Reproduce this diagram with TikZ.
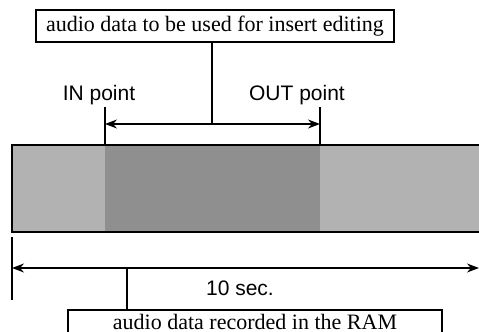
\documentclass[tikz,border=0pt]{standalone}
\usepackage{fontspec}
\usetikzlibrary{arrows.meta}
\setmainfont{Liberation Serif}
\newfontfamily\labelfont{Liberation Sans}
\begin{document}
\begin{tikzpicture}[x=0.5pt, y=-0.5pt, line width=0.6pt,
    textbox/.style={draw, line width=0.8pt, inner sep=0pt, font=\fontsize{11}{13}\selectfont},
    pointlabel/.style={font=\labelfont\fontsize{10.5}{12}\selectfont}]
    \useasboundingbox (0,0) rectangle (479,332);
    \clip (0,0) rectangle (479,332);
    % Positions
    \coordinate (IN) at (105,145);
    \coordinate (OUT) at (320,145);
    \coordinate (INtop) at (105,107);
    \coordinate (OUTtop) at (320,107);
    \coordinate (INarr) at (105,124);
    \coordinate (OUTarr) at (320,124);
    \coordinate (Start) at (12,268);
    \coordinate (End) at (479,268);
    \coordinate (Starttop) at (12,237);
    \coordinate (Startbot) at (12,300);

    % Pasek danych
    \fill[black!30] (12,145) rectangle (479,232);
    \fill[black!44] (IN) rectangle (320,232);
    \draw[line width=0.8pt] (479,145) -- (12,145) -- (12,232) -- (479,232);

    % Opisy
    \node[textbox, minimum width=179pt, minimum height=16pt] (insert) at (215,26) {audio data to be used for insert editing};
    \node[textbox, minimum width=187pt, minimum height=12pt, anchor=north] (ram) at (255,309) {audio data recorded in the RAM};
    \node[pointlabel] (inlabel) at (99,95) {IN point};
    \node[pointlabel] (outlabel) at (297,95) {OUT point};
    \node[pointlabel] (length) at (240,288) {10 sec.};

    % Punkty IN i OUT
    \draw (INtop) -- (IN);
    \draw (OUTtop) -- (OUT);
    \draw[<->, >={Stealth[length=6pt, width=4.5pt]}] (INarr) -- (OUTarr);
    \draw (insert.south -| 212,0) -- (212,124);

    % Długość nagrania
    \draw (Starttop) -- (Startbot);
    \draw[<->, >={Stealth[length=6pt, width=4.5pt]}] (Start) -- (End);
    \draw (127,268) -- (ram.north -| 127,0);
\end{tikzpicture}
\end{document}
